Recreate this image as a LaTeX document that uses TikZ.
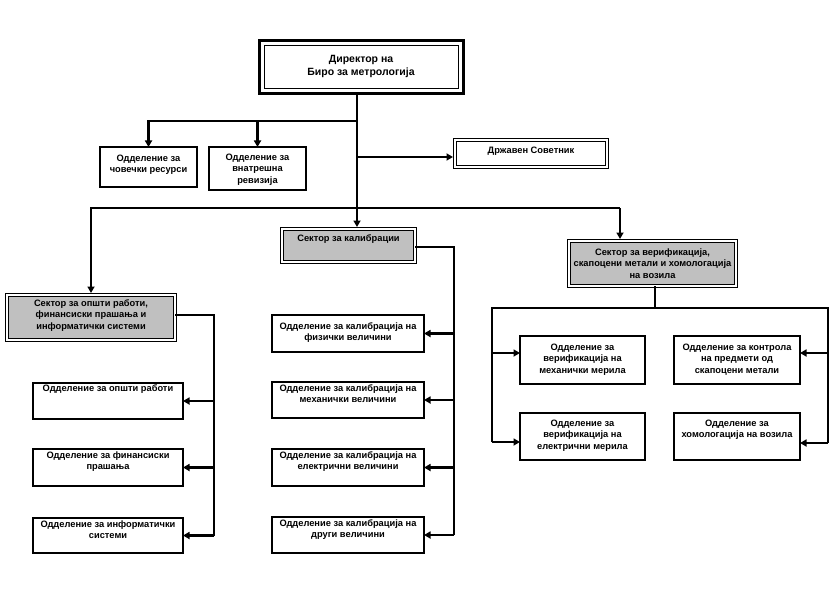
\documentclass[tikz,border=0pt]{standalone}
\usepackage{fontspec}
\setmainfont{Liberation Sans}
\usetikzlibrary{calc,arrows.meta}
\definecolor{sectgrey}{RGB}{192,192,192}
\newcommand\orgbox[8]{%
  \node[#2, minimum width={#5-#3}, minimum height={#6-#4}] (#1) at (#3,#4) {};
  \node[txt] (#1t) at ({(#3+#5)/2},{#7-3.6}) {#8};
}
\begin{document}
\begin{tikzpicture}[x=1pt,y=-1pt,
  conn/.style={line width=2.4pt, line join=miter},
  arr/.style={conn, -{Triangle[length=6.5pt,width=7pt]}},
  box/.style={draw, line width=1.3pt, inner sep=0pt, outer sep=0pt, anchor=north west},
  dbox/.style={box, line width=0.9pt, double, double distance=2pt},
  gbox/.style={dbox, fill=sectgrey},
  txt/.style={font=\fontsize{9.3}{11.5}\selectfont\bfseries, align=center, anchor=north, inner sep=0pt},
  dtxt/.style={font=\fontsize{10.5}{13}\selectfont\bfseries, align=center, anchor=north, inner sep=0pt},
]
\useasboundingbox (0,0) rectangle (835,599);
\fill[white] (0,0) rectangle (835,599);

% Director
\node[box, line width=1pt, minimum width=194, minimum height=43] (D) at (264,46) {};
\draw[line width=3pt] ([shift={(-5,-5)}]D.north west) rectangle ([shift={(5,5)}]D.south east);
\node[dtxt] (Dt) at (361,55) {Директор на\\Биро за метрологија};

% first level
\orgbox{HR}{box}{100}{147}{197}{187}{158}{Одделение за\\човечки ресурси}
\orgbox{IA}{box}{209}{147}{306}{190}{157}{Одделение за\\внатрешна\\ревизија}
\orgbox{DS}{dbox}{455}{140}{607}{167}{150}{Државен Советник}

% sectors
\orgbox{G}{gbox}{7}{295}{175}{340}{303}{Сектор за општи работи,\\финансиски прашања и\\информатички системи}
\orgbox{K}{gbox}{282}{229}{415}{262}{238}{Сектор за калибрации}
\orgbox{V}{gbox}{569}{241}{736}{286}{252}{Сектор за верификација,\\скапоцени метали и хомологација\\на возила}

% general departments
\orgbox{G1}{box}{33}{383}{183}{419}{388}{Одделение за општи работи}
\orgbox{G2}{box}{33}{449}{183}{486}{455}{Одделение за финансиски\\прашања}
\orgbox{G3}{box}{33}{518}{183}{553}{524}{Одделение за информатички\\системи}

% calibration departments
\orgbox{K1}{box}{272}{315}{424}{352}{326}{Одделение за калибрација на\\физички величини}
\orgbox{K2}{box}{272}{382}{424}{418}{388}{Одделение за калибрација на\\механички величини}
\orgbox{K3}{box}{272}{449}{424}{486}{455}{Одделение за калибрација на\\електрични величини}
\orgbox{K4}{box}{272}{517}{424}{553}{523}{Одделение за калибрација на\\други величини}

% verification departments
\orgbox{VA}{box}{520}{336}{645}{384}{347}{Одделение за\\верификација на\\механички мерила}
\orgbox{VB}{box}{520}{413}{645}{460}{423}{Одделение за\\верификација на\\електрични мерила}
\orgbox{VC}{box}{674}{336}{800}{384}{347}{Одделение за контрола\\на предмети од\\скапоцени метали}
\orgbox{VD}{box}{674}{413}{800}{460}{423}{Одделение за\\хомологација на возила}

% connectors
\coordinate (j1) at (357,121);
\coordinate (j2) at (357,208);
\coordinate (jds) at (357,157);
\coordinate (v2) at (620,208);
\draw[arr, shorten >=2pt] ($(D.south -| j1)+(0,5)$) -- (K.north -| j1);
\draw[arr] (j1) -| (HR.north);
\draw[arr] (j1 -| IA.north) -- (IA.north);
\draw[arr, shorten >=2pt] (jds) -- (jds -| DS.west);
\draw[arr, shorten >=2pt] (j2) -| (G.north);
\draw[conn] (j2) -- (v2);
\draw[arr, shorten >=2pt] (v2) -- (v2 |- V.north);

% general sector branch
\coordinate (gv) at (214,315);
\draw[conn] (G.east |- gv) -- (gv) -- (gv |- G3.east);
\foreach \n in {G1,G2,G3} \draw[arr] (gv |- \n.east) -- (\n.east);

% calibration sector branch
\coordinate (kv) at (454,247);
\draw[conn] (K.east |- kv) -- (kv) -- (kv |- K4.east);
\foreach \n in {K1,K2,K3,K4} \draw[arr] (kv |- \n.east) -- (\n.east);

% verification sector branch
\coordinate (vh) at (655,308);
\coordinate (vl) at (492,308);
\coordinate (vr) at (828,308);
\coordinate (a1) at (492,353);
\coordinate (a2) at (492,442);
\coordinate (a3) at (828,353);
\coordinate (a4) at (828,443);
\draw[conn] (V.south -| vh) -- (vh);
\draw[conn] (a2) -- (vl) -- (vr) -- (a4);
\draw[arr] (a1) -- (a1 -| VA.west);
\draw[arr] (a2) -- (a2 -| VB.west);
\draw[arr] (a3) -- (a3 -| VC.east);
\draw[arr] (a4) -- (a4 -| VD.east);
\end{tikzpicture}
\end{document}
